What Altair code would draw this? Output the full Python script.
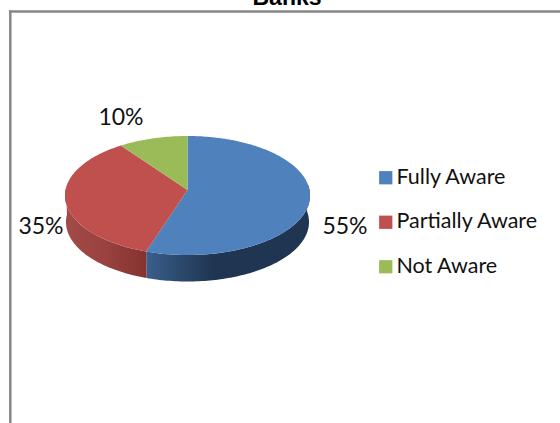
import math
import altair as alt
import pandas as pd

categories = ["Fully Aware", "Partially Aware", "Not Aware"]
shares = [55, 35, 10]
face_colors = ["#4F81BD", "#C0504D", "#9BBB59"]
label_text = ["55%", "35%", "10%"]

W, H = 560, 423
# Disc geometry in pixels; TILT is the perspective strength of the tilted pie.
CX, CY, RX, RY, TILT = 187.5, 190.0, 122.0, 59.0, 0.0924
DEPTH, LOWER_RX = 26.5, 121.0


def project(theta, rx=RX, drop=0.0):
    u, v = math.sin(theta), -math.cos(theta)
    d = 1 - TILT * v
    return CX + rx * u / d, CY + drop + RY * v / d


def arc(a0, a1, **kw):
    n = max(2, int(abs(a1 - a0) / 0.02))
    return [project(a0 + (a1 - a0) * i / n, **kw) for i in range(n + 1)]


def frame(points, **extra):
    return pd.DataFrame(
        [{"px": x, "py": y, "order": i, **extra} for i, (x, y) in enumerate(points)]
    )


xs = alt.Scale(domain=[0, W], range=[0, W])
ys = alt.Scale(domain=[0, H], range=[0, H])
X = alt.X("px:Q", scale=xs, axis=None)
Y = alt.Y("py:Q", scale=ys, axis=None)

# Slice boundaries, clockwise from twelve o'clock.
total = sum(shares)
bounds = [0.0]
for s in shares:
    bounds.append(bounds[-1] + 2 * math.pi * s / total)

# Top faces of the slices.
faces = []
for name, a0, a1 in zip(categories, bounds[:-1], bounds[1:]):
    faces.append(frame([(CX, CY)] + arc(a0, a1), category=name))
top = (
    alt.Chart(pd.concat(faces))
    .mark_line(strokeWidth=0, interpolate="linear-closed")
    .encode(
        x=X,
        y=Y,
        order="order:Q",
        fill=alt.Fill(
            "category:N",
            scale=alt.Scale(domain=categories, range=face_colors),
            legend=alt.Legend(
                title=None,
                orient="none",
                legendX=375,
                legendY=167,
                symbolType="square",
                symbolSize=176,
                symbolStrokeWidth=0,
                labelFont="Lato",
                labelFontSize=21.5,
                labelColor="#111111",
                labelLimit=200,
                labelOffset=0,
                rowPadding=21.5,
            ),
        ),
    )
)


def wall(a0, a1, stops):
    pts = arc(a0, a1) + arc(a0, a1, rx=LOWER_RX, drop=DEPTH)[::-1]
    fill = alt.Gradient(
        gradient="linear",
        x1=0, x2=1, y1=0, y2=0,
        stops=[alt.GradientStop(offset=o, color=c) for o, c in stops],
    )
    return (
        alt.Chart(frame(pts))
        .mark_line(fill=fill, strokeWidth=0, interpolate="linear-closed")
        .encode(x=X, y=Y, order="order:Q")
    )


# Side walls visible at the front of the pie.
blue_wall = wall(
    math.radians(85), bounds[1],
    [(0, "#3a5f8c"), (0.2, "#2c4a6e"), (0.42, "#1f3551"), (1, "#1f3551")],
)
red_wall = wall(
    bounds[1], math.radians(272),
    [(0, "#a14a47"), (0.5, "#99423f"), (1, "#85322f")],
)

# Data labels beside the pie.
label_px = [345, 41, 121]
label_py = [227, 227, 118]
labels = (
    alt.Chart(pd.DataFrame({"px": label_px, "py": label_py, "t": label_text}))
    .mark_text(font="Lato", fontSize=23, color="#111111", align="center", baseline="middle")
    .encode(x=X, y=Y, text="t:N")
)

# Chart title running off the top of the page, and the grey frame around the plot.
title = alt.Chart(pd.DataFrame({"px": [287], "py": [5], "t": ["Banks"]})).mark_text(
    font="Liberation Sans", fontSize=23, fontWeight="bold", color="#000000",
    align="center", baseline="alphabetic",
).encode(x=X, y=Y, text="t:N")

frame_top = alt.Chart(pd.DataFrame({"px": [9], "px2": [W], "py": [11.5]})).mark_rule(
    color="#868686", strokeWidth=2.5
).encode(x=X, x2="px2:Q", y=Y)
frame_left = alt.Chart(pd.DataFrame({"px": [10.3], "py": [10.5], "py2": [H]})).mark_rule(
    color="#868686", strokeWidth=2.5
).encode(x=X, y=Y, y2="py2:Q")

chart = (
    alt.layer(frame_top, frame_left, title, blue_wall, red_wall, top, labels)
    .properties(width=W, height=H, padding=0, background="white",
                autosize=alt.AutoSizeParams(type="none"))
    .configure_view(stroke=None)
)

chart.save("out.html", embed_options={"renderer": "svg", "actions": False})
